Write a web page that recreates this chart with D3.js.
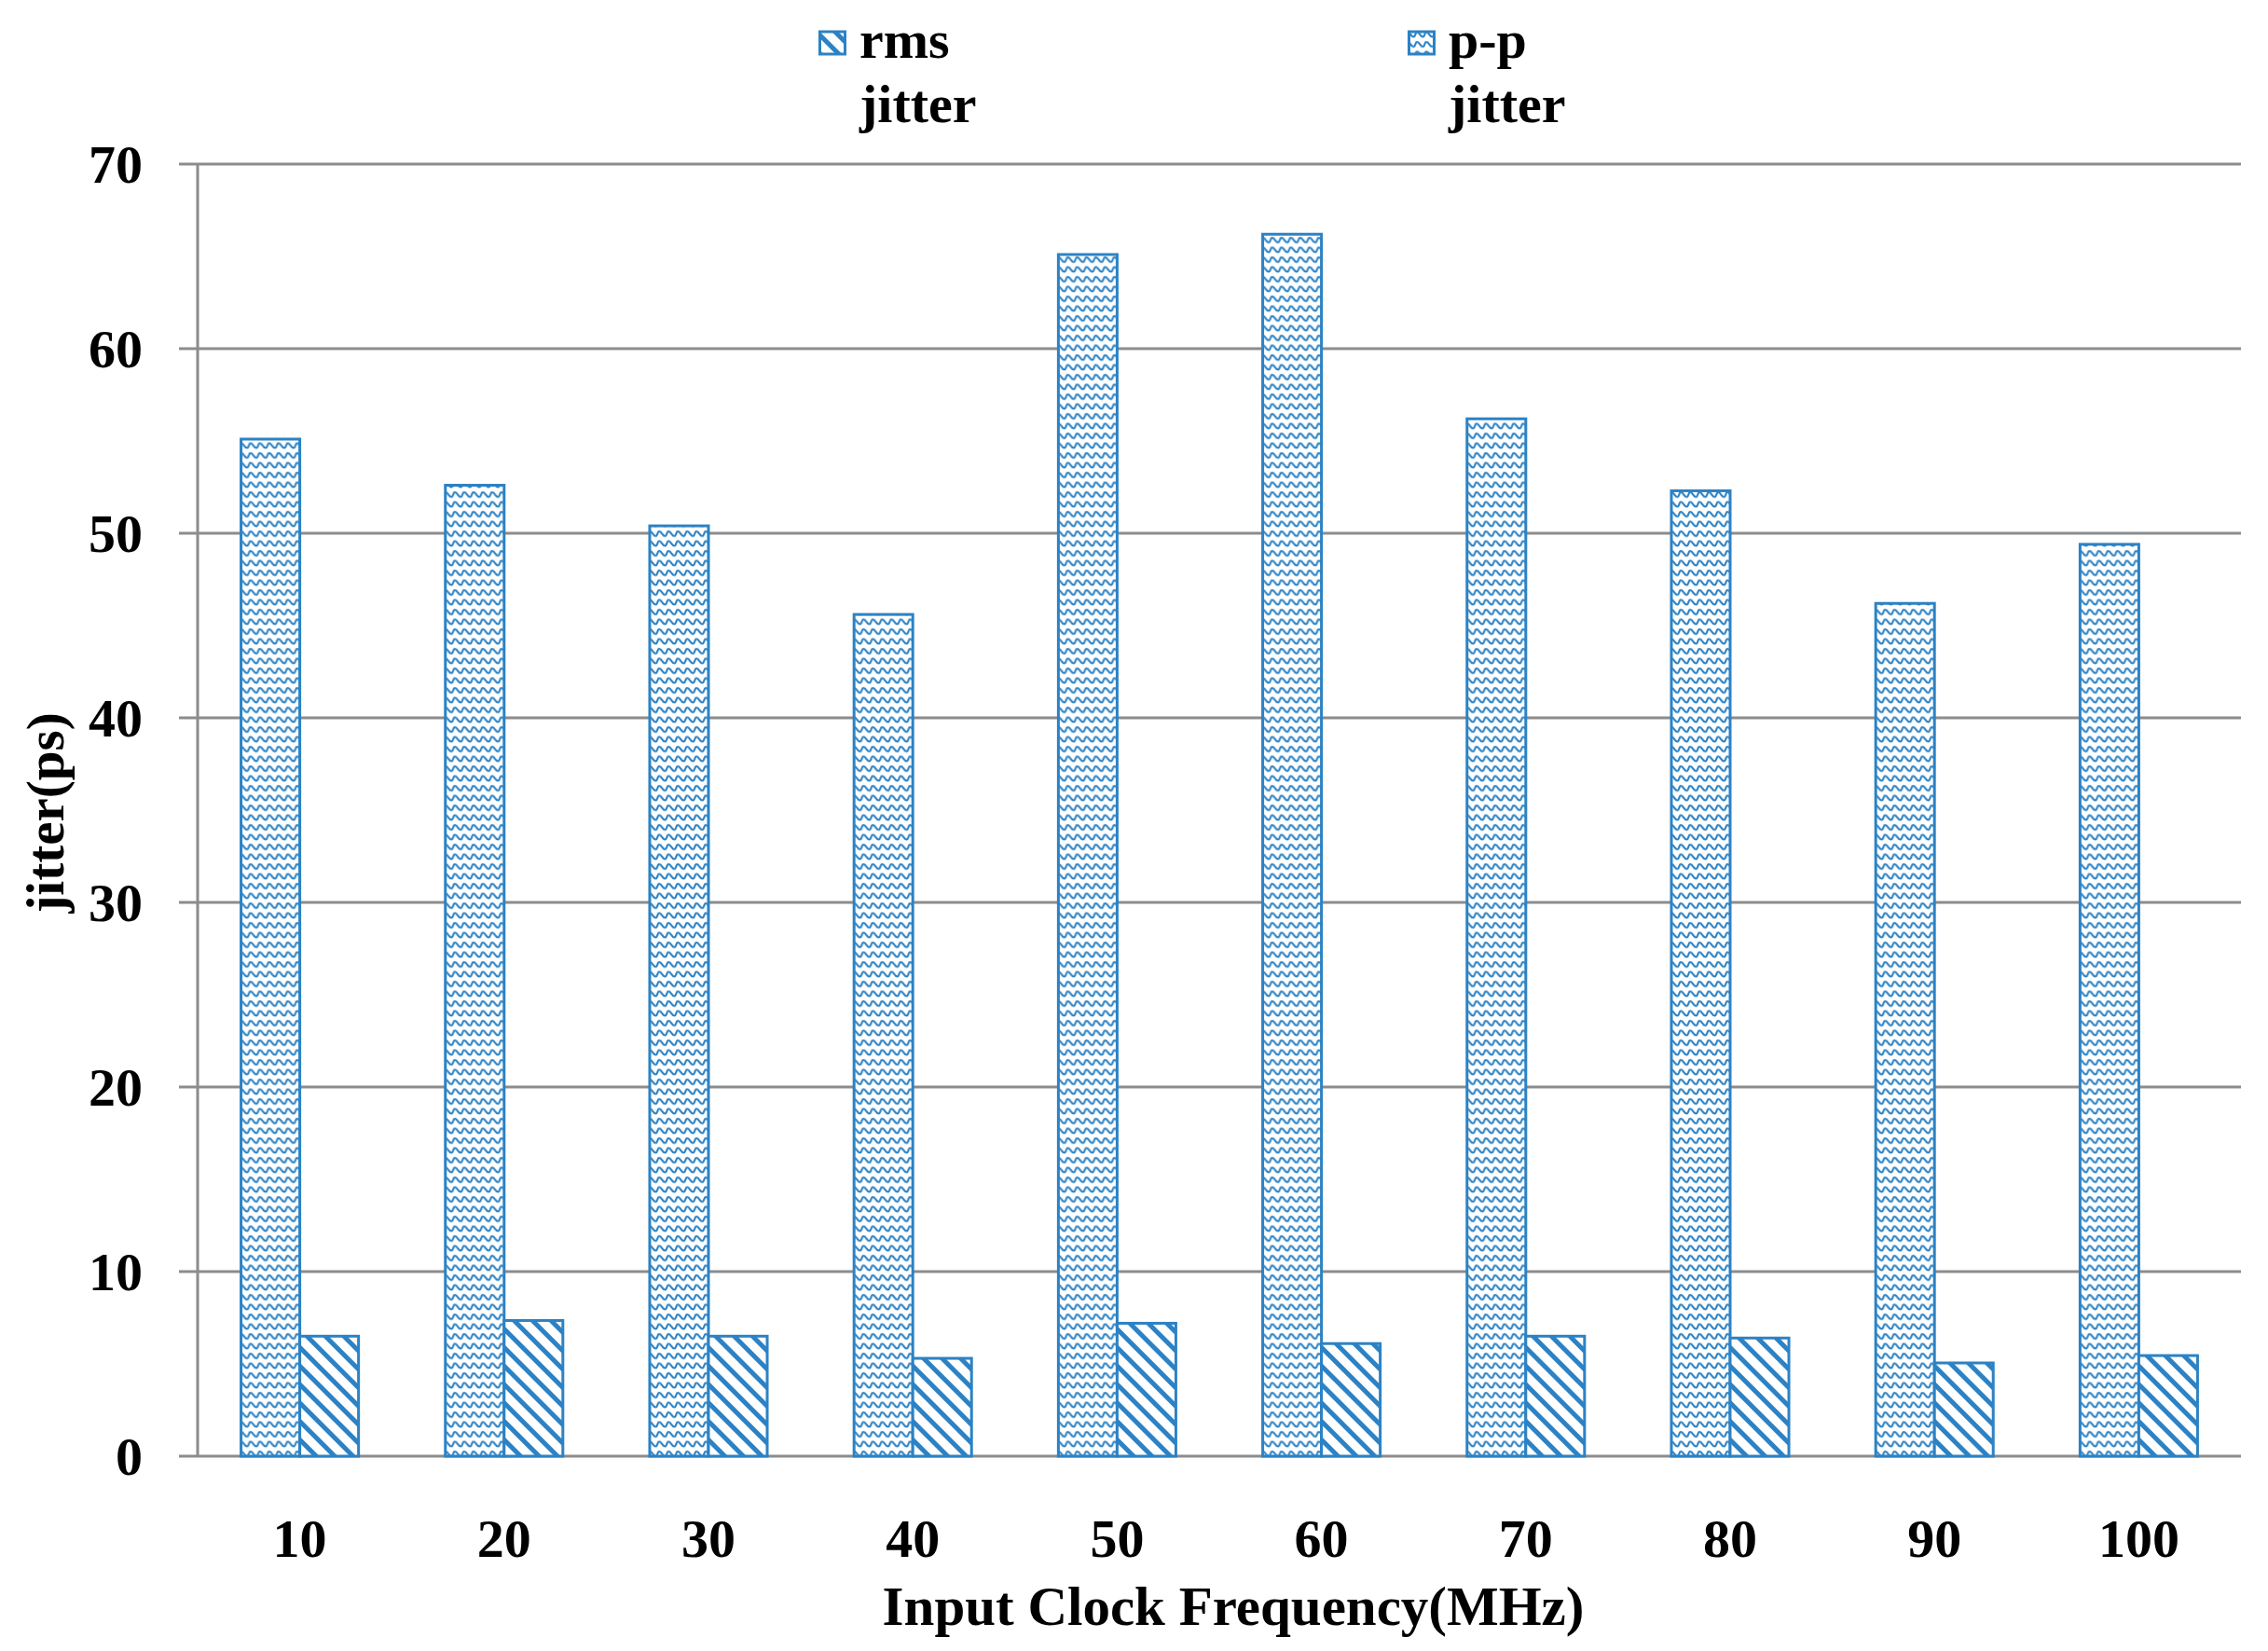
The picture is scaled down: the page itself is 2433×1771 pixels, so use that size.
<!DOCTYPE html>
<html>
<head>
<meta charset="utf-8">
<script src="https://cdn.jsdelivr.net/npm/d3@7/dist/d3.min.js"></script>
<style>
  html, body { margin: 0; padding: 0; background: #ffffff; }
  svg { display: block; }
  text { font-family: "Liberation Serif", "Times New Roman", serif; font-weight: bold; fill: #000; }
</style>
</head>
<body>
<svg id="chart" width="2433" height="1771"></svg>
<script>
// ---- data ----
const categories = ["10", "20", "30", "40", "50", "60", "70", "80", "90", "100"];
const ppJitter  = [55.1, 52.6, 50.4, 45.6, 65.1, 66.2, 56.2, 52.3, 46.2, 49.4];
const rmsJitter = [6.5, 7.35, 6.5, 5.3, 7.2, 6.1, 6.5, 6.4, 5.05, 5.45];
const yTicks = [0, 10, 20, 30, 40, 50, 60, 70];
const seriesNames = ["pp", "rms"];
const legendItems = [
  { key: "rms", lines: ["rms", "jitter"] },
  { key: "pp",  lines: ["p-p", "jitter"] }
];
const xTitle = "Input Clock Frequency(MHz)";
const yTitle = "jitter(ps)";

// ---- layout ----
const blue = "#2C82C4";
const gridColor = "#8C8C8C";
const plotLeft = 212, plotRight = 2404, plotTop = 176, plotBottom = 1562;

const svg = d3.select("#chart");
svg.append("rect").attr("width", 2433).attr("height", 1771).attr("fill", "#fff");

const defs = svg.append("defs");
// wave pattern for p-p
const wave = defs.append("pattern")
  .attr("id", "wave").attr("patternUnits", "userSpaceOnUse")
  .attr("width", 20).attr("height", 10.5);
wave.append("rect").attr("width", 20).attr("height", 10.5).attr("fill", "#fff");
wave.append("path")
  .attr("d", "M0,3 C3.3,3 3.3,8 6.6,8 C8.3,8 8.3,3 10,3 C13.3,3 13.3,8 16.6,8 C18.3,8 18.3,3 20,3")
  .attr("fill", "none").attr("stroke", blue).attr("stroke-width", 2.2);
// diagonal pattern for rms
const diag = defs.append("pattern")
  .attr("id", "diag").attr("patternUnits", "userSpaceOnUse")
  .attr("width", 14).attr("height", 14)
  .attr("patternTransform", "rotate(-45)");
diag.append("rect").attr("width", 14).attr("height", 14).attr("fill", "#fff");
diag.append("rect").attr("x", 0).attr("width", 5).attr("height", 14).attr("fill", blue);

const fills = { pp: "url(#wave)", rms: "url(#diag)" };

const y = d3.scaleLinear().domain([0, 70]).range([plotBottom, plotTop]);
const x0 = d3.scaleBand().domain(categories).range([plotLeft, plotRight]).paddingInner(0.425).paddingOuter(0.2125);
const x1 = d3.scaleBand().domain(seriesNames).range([0, x0.bandwidth()]);

// gridlines + tick marks
svg.append("g").selectAll("line").data(yTicks).join("line")
  .attr("x1", plotLeft - 20).attr("x2", plotRight)
  .attr("y1", d => y(d)).attr("y2", d => y(d))
  .attr("stroke", gridColor).attr("stroke-width", 3);
// vertical axis line
svg.append("line").attr("x1", plotLeft).attr("x2", plotLeft).attr("y1", y(70)).attr("y2", y(0))
  .attr("stroke", gridColor).attr("stroke-width", 3);

// y axis labels
const yAxis = svg.append("g").attr("transform", `translate(${plotLeft},0)`)
  .call(d3.axisLeft(y).tickValues(yTicks).tickSize(0).tickPadding(59).tickFormat(d3.format("d")));
yAxis.select(".domain").remove();
yAxis.selectAll("text").attr("font-size", 58).attr("dy", "0.34em")
  .style("font-family", '"Liberation Serif", "Times New Roman", serif').style("font-weight", "bold").attr("fill", "#000");

// x axis labels
const xAxis = svg.append("g").attr("transform", `translate(0,${plotBottom})`)
  .call(d3.axisBottom(x0).tickSize(0));
xAxis.select(".domain").remove();
xAxis.selectAll("text").attr("y", 108).attr("dy", 0).attr("font-size", 58)
  .style("font-family", '"Liberation Serif", "Times New Roman", serif').style("font-weight", "bold").attr("fill", "#000");

// bars
const rows = categories.map((c, i) => ({ cat: c, pp: ppJitter[i], rms: rmsJitter[i] }));
const groups = svg.append("g").selectAll("g").data(rows).join("g")
  .attr("transform", d => `translate(${x0(d.cat)},0)`);
groups.selectAll("rect").data(d => seriesNames.map(k => ({ key: k, value: d[k] }))).join("rect")
  .attr("x", d => x1(d.key))
  .attr("y", d => y(d.value))
  .attr("width", x1.bandwidth())
  .attr("height", d => y(0) - y(d.value))
  .attr("fill", d => fills[d.key])
  .attr("stroke", blue).attr("stroke-width", 3);

// axis titles
svg.append("text").attr("x", 1323).attr("y", 1743).attr("text-anchor", "middle")
  .attr("font-size", 59).text(xTitle);
svg.append("text").attr("transform", "translate(68,872) rotate(-90)").attr("text-anchor", "middle")
  .attr("font-size", 57).text(yTitle);

// legend
const legendX = { rms: 878, pp: 1510 };
const lg = svg.append("g").selectAll("g").data(legendItems).join("g")
  .attr("transform", d => `translate(${legendX[d.key]},0)`);
lg.append("rect").attr("x", 1.5).attr("y", 34).attr("width", 27).attr("height", 24)
  .attr("fill", d => fills[d.key]).attr("stroke", blue).attr("stroke-width", 3);
lg.each(function(d) {
  const g = d3.select(this);
  d.lines.forEach((t, i) => {
    g.append("text").attr("x", 44).attr("y", 62 + i * 69).attr("font-size", 58).text(t);
  });
});
</script>
</body>
</html>
